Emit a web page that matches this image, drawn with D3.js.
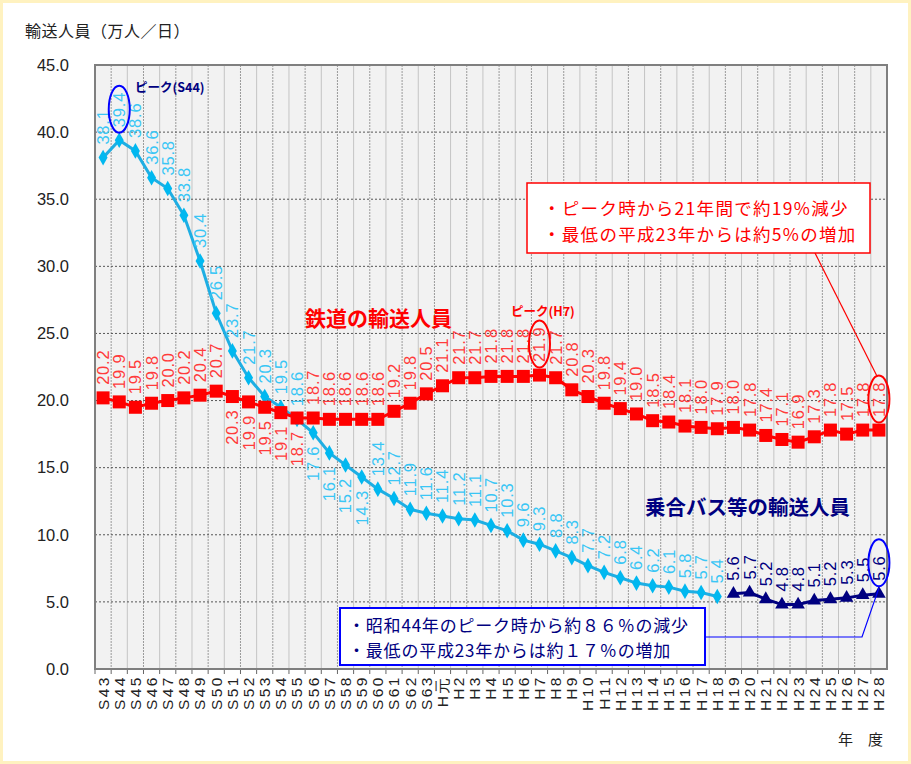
<!DOCTYPE html>
<html>
<head>
<meta charset="utf-8">
<script src="https://cdn.jsdelivr.net/npm/d3@7"></script>
<style>
  body { margin: 0; background: #fff; }
  svg { display: block; font-family: "Noto Sans CJK JP", "Liberation Sans", sans-serif; }
</style>
</head>
<body>
<div id="chart"></div>
<script>
// categories (fiscal years)
var showaYears = ["S43","S44","S45","S46","S47","S48","S49","S50","S51","S52","S53","S54","S55","S56","S57","S58","S59","S60","S61","S62","S63"];
var heiseiYears = ["H元","H2","H3","H4","H5","H6","H7","H8","H9","H10","H11","H12","H13","H14","H15","H16","H17","H18","H19","H20","H21","H22","H23","H24","H25","H26","H27","H28"];
var years = showaYears.concat(heiseiYears);

// 鉄道 S43..H28
var railValues = [20.2,19.9,19.5,19.8,20.0,20.2,20.4,20.7,20.3,19.9,19.5,19.1,18.7,18.7,18.6,18.6,18.6,18.6,19.2,19.8,20.5,
  21.1,21.7,21.7,21.8,21.8,21.8,21.9,21.7,20.8,20.3,19.8,19.4,19.0,18.5,18.4,18.1,18.0,17.9,18.0,17.8,17.4,17.1,16.9,17.3,17.8,17.5,17.8,17.8];
// 乗合バス S43..H18
var busOldYears = years.slice(0, 39);
var busOldValues = [38.1,39.4,38.6,36.6,35.8,33.8,30.4,26.5,23.7,21.7,20.3,19.5,18.6,17.6,16.1,15.2,14.3,13.4,12.7,11.9,11.6,
  11.4,11.2,11.1,10.7,10.3,9.6,9.3,8.8,8.3,7.7,7.2,6.8,6.4,6.2,6.1,5.8,5.7,5.4];
// 乗合バス等 H19..H28
var busNewYears = years.slice(39);
var busNewValues = [5.6,5.7,5.2,4.8,4.8,5.1,5.2,5.3,5.5,5.6];

var yTicks = [0,5,10,15,20,25,30,35,40,45];
var railBelow = ["S51","S52","S53","S54","S55"];
var busBelow = ["S56","S57","S58","S59"];

var W = 911, H = 764;
var plotL = 95, plotR = 887, plotT = 65, plotB = 669;

var svg = d3.select("#chart").append("svg")
  .attr("width", W).attr("height", H);

// pale frame
svg.append("rect").attr("x", 1.5).attr("y", 1.5).attr("width", W - 3).attr("height", H - 3)
  .attr("fill", "#fff").attr("stroke", "#fff2c0").attr("stroke-width", 3);

var x = d3.scaleBand().domain(years).range([plotL, plotR]).padding(0);
var y = d3.scaleLinear().domain([0, 45]).range([plotB, plotT]);
var cx = function (k) { return x(k) + x.bandwidth() / 2; };

svg.append("rect").attr("x", plotL).attr("y", plotT)
  .attr("width", plotR - plotL).attr("height", plotB - plotT).attr("fill", "#f2f2f2");

// vertical grid
var g = svg.append("g");
years.forEach(function (k, i) {
  if (i === 0) return;
  g.append("line").attr("x1", x(k)).attr("x2", x(k)).attr("y1", plotT).attr("y2", plotB)
    .attr("stroke", i % 2 ? "#9a9a9a" : "#c4c4c4")
    .attr("stroke-dasharray", i % 2 ? "2,1" : null).attr("stroke-width", 1);
});
// horizontal grid
yTicks.forEach(function (t) {
  if (t === 0 || t === 45) return;
  g.append("line").attr("x1", plotL).attr("x2", plotR).attr("y1", y(t)).attr("y2", y(t))
    .attr("stroke", "#555").attr("stroke-dasharray", "2,2").attr("stroke-width", 1);
});

// axes
var yAxis = svg.append("g").attr("transform", "translate(" + plotL + ",0)")
  .call(d3.axisLeft(y).tickValues(yTicks).tickFormat(d3.format(".1f")).tickSize(0).tickPadding(26));
yAxis.select(".domain").remove();
yAxis.selectAll("text").attr("font-size", 16.5).attr("fill", "#222")
  .attr("font-family", "Liberation Sans, sans-serif");

var xAxis = svg.append("g").attr("transform", "translate(0," + plotB + ")")
  .call(d3.axisBottom(x).tickSize(0));
xAxis.select(".domain").remove();
xAxis.selectAll("text")
  .attr("transform", "rotate(-90)")
  .attr("x", -6).attr("y", 0).attr("dy", ".35em")
  .style("text-anchor", "end")
  .attr("font-size", 15.5).attr("letter-spacing", 2.5).attr("fill", "#222");

// tick marks at category boundaries
years.forEach(function (k) {
  svg.append("line").attr("x1", x(k)).attr("x2", x(k)).attr("y1", plotB).attr("y2", plotB + 5)
    .attr("stroke", "#666");
});

svg.append("rect").attr("x", plotL).attr("y", plotT)
  .attr("width", plotR - plotL).attr("height", plotB - plotT)
  .attr("fill", "none").attr("stroke", "#7f7f7f").attr("stroke-width", 2);

// series
var line = d3.line().x(function (d) { return cx(d.k); }).y(function (d) { return y(d.v); });
function zip(ks, vs) { return ks.map(function (k, i) { return {k: k, v: vs[i]}; }); }

var rail = zip(years, railValues);
var busOld = zip(busOldYears, busOldValues);
var busNew = zip(busNewYears, busNewValues);

svg.append("path").datum(busOld).attr("d", line)
  .attr("fill", "none").attr("stroke", "#1eaee3").attr("stroke-width", 3);
svg.selectAll(".dia").data(busOld).enter().append("path")
  .attr("d", d3.symbol().type(d3.symbolDiamond).size(70))
  .attr("transform", function (d) { return "translate(" + cx(d.k) + "," + y(d.v) + ")"; })
  .attr("fill", "#00b8f0");

svg.append("path").datum(busNew).attr("d", line)
  .attr("fill", "none").attr("stroke", "#000080").attr("stroke-width", 3);
svg.selectAll(".tri").data(busNew).enter().append("path")
  .attr("d", d3.symbol().type(d3.symbolTriangle).size(80))
  .attr("transform", function (d) { return "translate(" + cx(d.k) + "," + y(d.v) + ")"; })
  .attr("fill", "#000080");

svg.append("path").datum(rail).attr("d", line)
  .attr("fill", "none").attr("stroke", "#ff0000").attr("stroke-width", 3);
svg.selectAll(".sq").data(rail).enter().append("rect")
  .attr("x", function (d) { return cx(d.k) - 6.5; })
  .attr("y", function (d) { return y(d.v) - 6.5; })
  .attr("width", 13).attr("height", 13).attr("fill", "#ff0000");

// data labels
function labels(data, color, belowList) {
  svg.append("g").selectAll("text").data(data).enter().append("text")
    .attr("transform", function (d) {
      var below = belowList.indexOf(d.k) != -1;
      return "translate(" + cx(d.k) + "," + (y(d.v) + (below ? 13 : -13)) + ") rotate(-90)";
    })
    .attr("dy", ".36em")
    .style("text-anchor", function (d) { return belowList.indexOf(d.k) != -1 ? "end" : "start"; })
    .attr("font-size", 16.5).attr("letter-spacing", 0.8)
    .attr("font-family", "Liberation Sans, sans-serif")
    .attr("fill", color)
    .text(function (d) { return d3.format(".1f")(d.v); });
}
labels(rail, "#ff3b3b", railBelow);
labels(busOld, "#3ac6f5", busBelow);
labels(busNew, "#000080", []);

// titles
svg.append("text").attr("x", 25).attr("y", 37).attr("font-size", 16).attr("letter-spacing", 0.5)
  .attr("fill", "#222").text("輸送人員（万人／日）");
svg.append("text").attr("x", 838).attr("y", 745).attr("font-size", 15).attr("fill", "#222")
  .text("年　度");

svg.append("text").attr("x", 305).attr("y", 326).attr("font-size", 21).attr("font-weight", "bold")
  .attr("fill", "#ff0000").text("鉄道の輸送人員");
svg.append("text").attr("x", 645).attr("y", 515).attr("font-size", 20.5).attr("font-weight", "bold")
  .attr("fill", "#000080").text("乗合バス等の輸送人員");
svg.append("text").attr("x", 511).attr("y", 316).attr("font-size", 12.5).attr("font-weight", "bold")
  .attr("fill", "#ff0000").text("ピーク(H7)");
svg.append("text").attr("x", 135).attr("y", 92).attr("font-size", 12.5).attr("font-weight", "bold")
  .attr("fill", "#000080").text("ピーク(S44)");

// ellipses around peak / latest labels
function ring(k, v, color) {
  svg.append("ellipse").attr("cx", cx(k)).attr("cy", y(v) - 13 - 18)
    .attr("rx", 10.5).attr("ry", 23.5)
    .attr("fill", "none").attr("stroke", color).attr("stroke-width", 2);
}
ring("S44", 39.4, "#0000ff");
ring("H7", 21.9, "#ff0000");
ring("H28", 17.8, "#ff0000");
ring("H28", 5.6, "#0000ff");

// red note
svg.append("line").attr("x1", 815).attr("y1", 253).attr("x2", cx("H28") - 2).attr("y2", y(17.8) - 54)
  .attr("stroke", "#ff0000").attr("stroke-width", 1.2);
svg.append("rect").attr("x", 527).attr("y", 183).attr("width", 343).attr("height", 70)
  .attr("fill", "#fff").attr("stroke", "#ff0000").attr("stroke-width", 1.5);
svg.append("text").attr("x", 543).attr("y", 215).attr("font-size", 17.5).attr("letter-spacing", 1.3)
  .attr("fill", "#ff0000").text("・ピーク時から21年間で約19%減少");
svg.append("text").attr("x", 543).attr("y", 241).attr("font-size", 17.5).attr("letter-spacing", 1.3)
  .attr("fill", "#ff0000").text("・最低の平成23年からは約5%の増加");

// blue note
svg.append("polyline")
  .attr("points", [[705, 637], [862, 637], [cx("H28"), y(5.6) - 6]].join(" "))
  .attr("fill", "none").attr("stroke", "#0000ff").attr("stroke-width", 1.2);
svg.append("rect").attr("x", 340).attr("y", 608).attr("width", 365).attr("height", 57)
  .attr("fill", "#fff").attr("stroke", "#0000ff").attr("stroke-width", 2);
svg.append("text").attr("x", 348).attr("y", 632).attr("font-size", 17).attr("letter-spacing", 0.8)
  .attr("fill", "#000080").text("・昭和44年のピーク時から約８６％の減少");
svg.append("text").attr("x", 348).attr("y", 657).attr("font-size", 17).attr("letter-spacing", 0.8)
  .attr("fill", "#000080").text("・最低の平成23年からは約１７％の増加");
</script>
</body>
</html>
